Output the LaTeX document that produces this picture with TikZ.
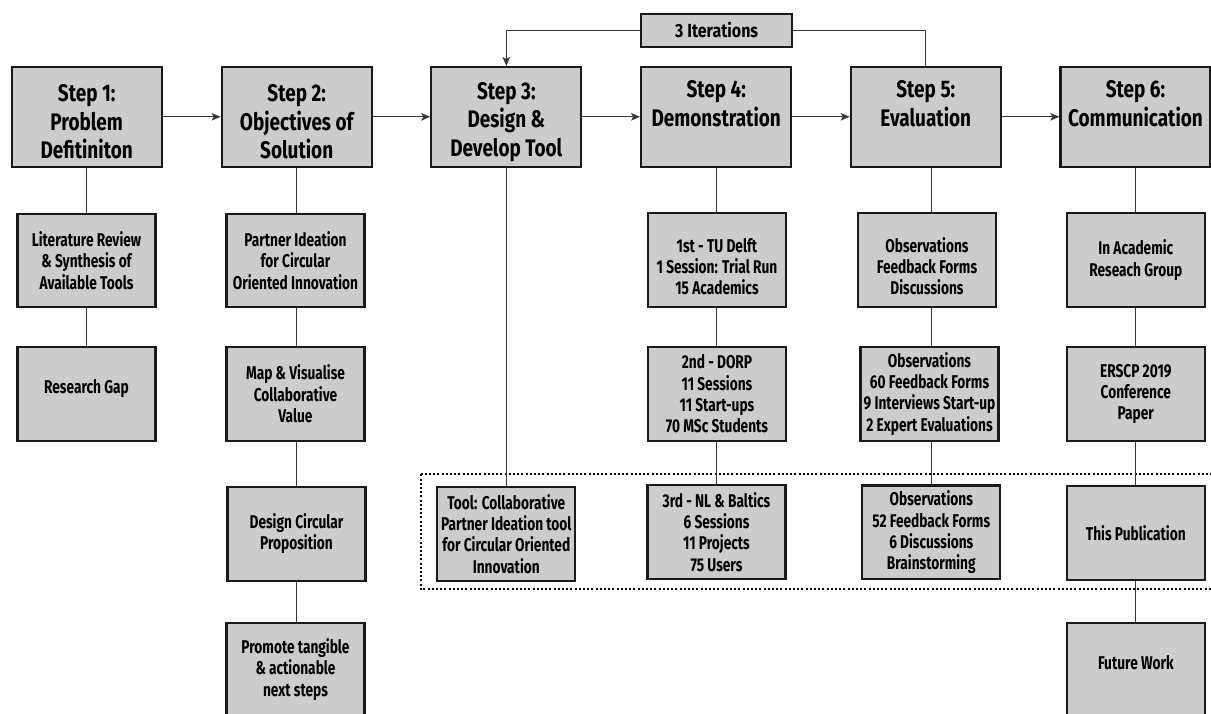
\documentclass[tikz,border=0pt]{standalone}
\usepackage{fontspec}
\setmainfont{Fira Sans}[FakeStretch=0.74]
\newfontfamily\stepfont{Fira Sans}[FakeStretch=0.79]
\newfontfamily\iterfont{Fira Sans}[FakeStretch=0.84]
\usetikzlibrary{arrows.meta}
\newcommand\myTop[1]{\rule{0pt}{#1}}
\newcommand\myBot[1]{\rule[-#1]{0pt}{0pt}}
\begin{document}
\begin{tikzpicture}[x=1pt,y=-1pt,
  box/.style={draw=black!90, line width=2.1pt, fill=black!20, align=center, inner sep=0pt,
    font=\bfseries\fontsize{18.5}{21.3}\selectfont},
  stepbox/.style={box, minimum width=150pt, minimum height=99.5pt,
    font=\stepfont\bfseries\fontsize{24}{28.6}\selectfont},
  subbox/.style={box, minimum width=138pt, minimum height=93.7pt},
  conn/.style={draw=black!78, line width=1.3pt},
  arr/.style={conn, -{Stealth[length=9pt,width=7.5pt,inset=2pt]}},
  frame/.style={draw=black, line width=2.2pt, dash pattern=on 2pt off 2.2pt},
]
\useasboundingbox (0,0) rectangle (1211,713);
\clip (0,0) rectangle (1211,713);

% steps
\node[stepbox] (s1) at (86.7,116.8) {\myTop{27pt}Step 1:\\Problem\\Defitiniton};
\node[stepbox] (s2) at (296.7,116.8) {\myTop{27pt}Step 2:\\Objectives of\\Solution};
\node[stepbox] (s3) at (506.3,116.8) {\myTop{27pt}Step 3:\\Design \&\\Develop Tool};
\node[stepbox] (s4) at (716.2,116.8) {\myTop{27pt}Step 4:\\Demonstration\\\strut};
\node[stepbox] (s5) at (925.8,116.8) {\myTop{27pt}Step 5:\\Evaluation\\\strut};
\node[stepbox] (s6) at (1135.5,116.8) {\myTop{27pt}Step 6:\\Communication\\\strut};

\node[box, minimum width=151pt, minimum height=33pt, font=\iterfont\bfseries\fontsize{19}{21}\selectfont] (it) at (716.7,30.2) {3 Iterations};

% dotted frame
\draw[frame] (420.7,474.3) rectangle (1218,589.3);

% column 1
\node[subbox] (lit) at (86.5,260.5) {Literature Review\\\& Synthesis of\\Available Tools};
\node[subbox] (gap) at (86.5,393.8) {Research Gap\myBot{15pt}};
% column 2
\node[subbox] (pi) at (295.5,260.5) {Partner Ideation\\for Circular\\Oriented Innovation};
\node[subbox] (map) at (295.5,393.8) {Map \& Visualise\\Collaborative\\Value};
\node[subbox] (dcp) at (296.5,533.8) {Design Circular\\Proposition};
\node[subbox] (prom) at (295.5,669.5) {Promote tangible\\\& actionable\\next steps};
% column 3
\node[subbox] (tool) at (506.3,533.8) {Tool: Collaborative\\Partner Ideation tool\\for Circular Oriented\\Innovation};
% column 4
\node[subbox] (d1) at (717,260) {\myTop{27pt}1st - TU Delft\\1 Session: Trial Run\\15 Academics};
\node[subbox] (d2) at (717,393.8) {2nd - DORP\\11 Sessions\\11 Start-ups\\70 MSc Students};
\node[subbox] (d3) at (716.5,531.8) {3rd - NL \& Baltics\\6 Sessions\\11 Projects\\75 Users};
% column 5
\node[subbox] (e1) at (927,260) {\myTop{27pt}Observations\\Feedback Forms\\Discussions};
\node[subbox] (e2) at (929.5,393.8) {Observations\\60 Feedback Forms\\9 Interviews Start-up\\2 Expert Evaluations};
\node[subbox] (e3) at (931.3,532.3) {Observations\\52 Feedback Forms\\6 Discussions\\Brainstorming};
% column 6
\node[subbox] (c1) at (1135.8,260) {In Academic\\Reseach Group};
\node[subbox] (c2) at (1135.8,393.8) {ERSCP 2019\\Conference\\Paper};
\node[subbox] (c3) at (1135.8,532.7) {This Publication};
\node[subbox] (c4) at (1135.8,669.5) {Future Work\myBot{15pt}};

% horizontal arrows
\draw[arr] (s1) -- (s2);
\draw[arr] (s2) -- (s3);
\draw[arr] (s3) -- (s4);
\draw[arr] (s4) -- (s5);
\draw[arr] (s5) -- (s6);
% iterations
\draw[arr] (it.west) -| (s3.north);
\draw[conn] (it.east) -| (s5.north);

% verticals
\draw[conn] (lit.north -| s1.south) -- (s1.south);
\draw[conn] (lit.south -| s1.south) -- (gap.north -| s1.south);
\draw[conn] (pi.north -| s2.south) -- (s2.south);
\draw[conn] (pi.south -| s2.south) -- (map.north -| s2.south);
\draw[conn] (map.south -| s2.south) -- (dcp.north -| s2.south);
\draw[conn] (dcp.south -| s2.south) -- (prom.north -| s2.south);
\draw[conn] (tool.north) -- (s3.south);
\draw[conn] (d1.north -| s4.south) -- (s4.south);
\draw[conn] (d1.south -| s4.south) -- (d2.north -| s4.south);
\draw[conn] (d2.south -| s4.south) -- (d3.north -| s4.south);
\coordinate (x5) at (931.7,0);
\draw[conn] (s5.south -| x5) -- (e1.north -| x5);
\draw[conn] (e1.south -| x5) -- (e2.north -| x5);
\draw[conn] (e2.south -| x5) -- (e3.north -| x5);
\draw[conn] (c1.north) -- (c1.north |- s6.south);
\draw[conn] (c1.south) -- (c2.north);
\draw[conn] (c2.south) -- (c3.north);
\draw[conn] (c3.south) -- (c4.north);
\end{tikzpicture}
\end{document}
